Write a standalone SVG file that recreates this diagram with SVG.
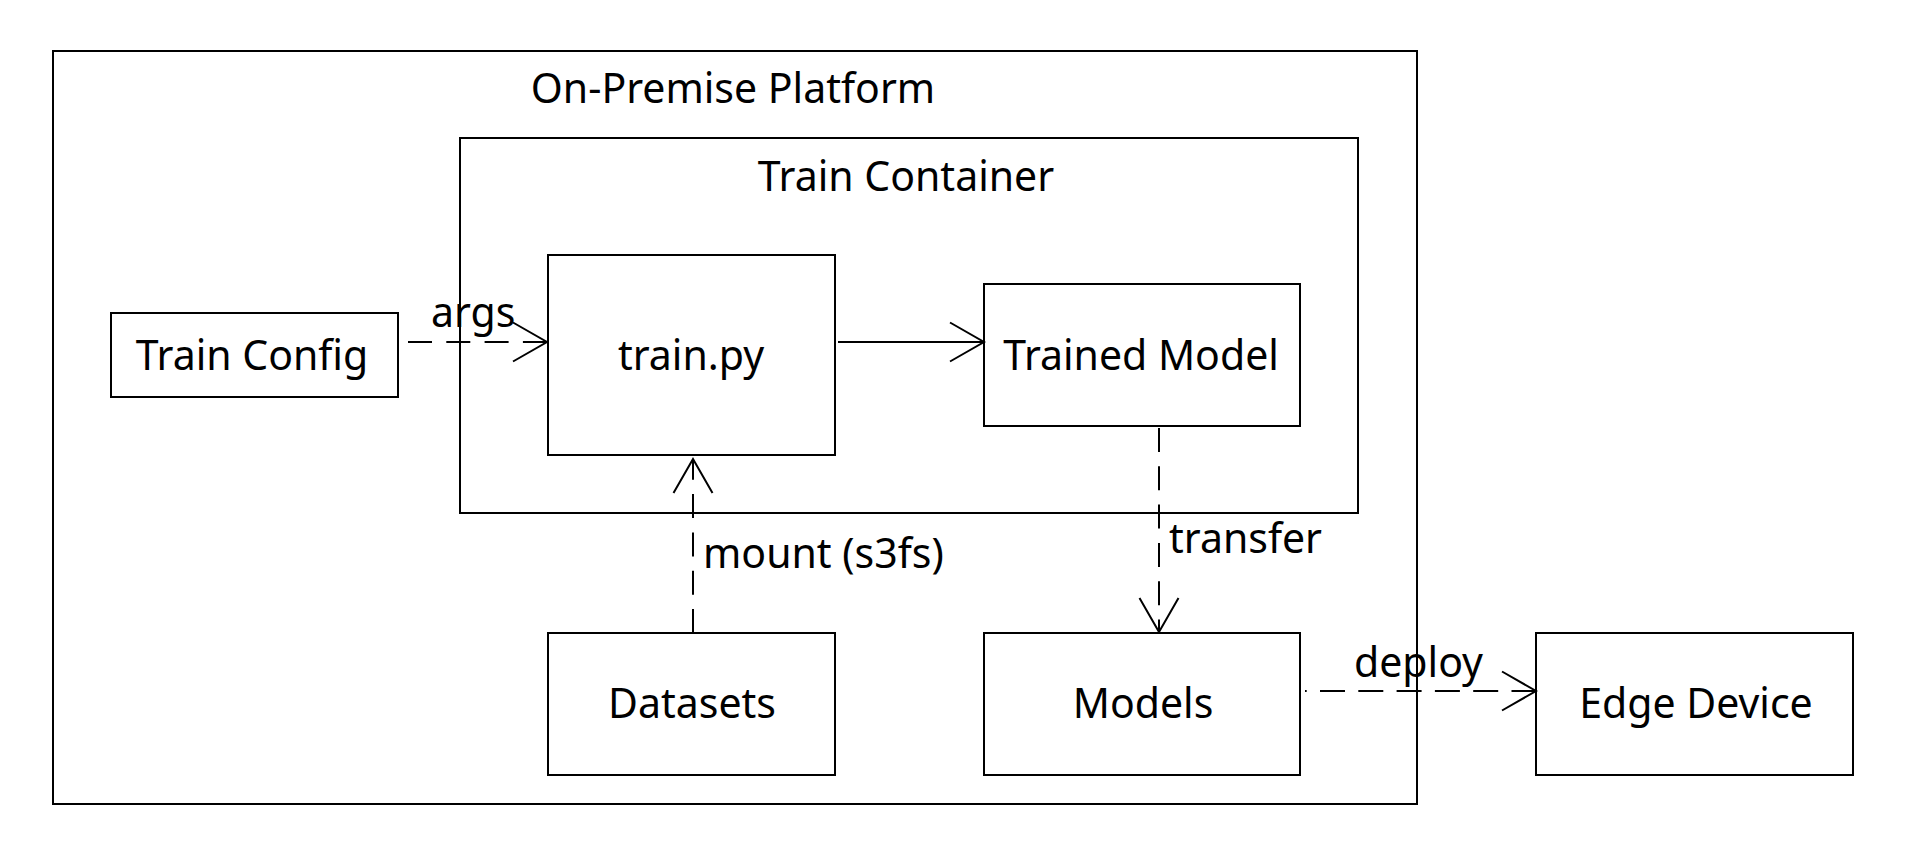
<svg xmlns="http://www.w3.org/2000/svg" width="1905" height="855" viewBox="0 0 1905 855">
<style>
.box{fill:none;stroke:#000;stroke-width:2}
.t{font-family:"Noto Sans","DejaVu Sans",sans-serif;font-size:41px;fill:#000}
.c{text-anchor:middle}
.ln{fill:none;stroke:#000;stroke-width:2}
.dash{stroke-dasharray:24 14.3}
</style>
<defs>
<marker id="open" markerUnits="userSpaceOnUse" markerWidth="40" markerHeight="44" viewBox="-36 -22 40 44" refX="0" refY="0" orient="auto" overflow="visible">
<path d="M-34,-19.5 L0,0 L-34,19.5" fill="none" stroke="#000" stroke-width="2" stroke-dasharray="none"/>
</marker>
</defs>
<g id="on-premise-platform">
<rect class="box" x="53" y="51" width="1364" height="753"/>
<text class="t c" x="733" y="103">On-Premise Platform</text>
</g>
<g id="train-container">
<rect class="box" x="460" y="138" width="898" height="375"/>
<text class="t c" x="906" y="191">Train Container</text>
</g>
<g id="train-config">
<rect class="box" x="111" y="313" width="287" height="84"/>
<text class="t c" x="252" y="370">Train Config</text>
</g>
<g id="train-py">
<rect class="box" x="548" y="255" width="287" height="200"/>
<text class="t c" x="691" y="370">train.py</text>
</g>
<g id="trained-model">
<rect class="box" x="984" y="284" width="316" height="142"/>
<text class="t c" x="1141" y="370">Trained Model</text>
</g>
<g id="datasets">
<rect class="box" x="548" y="633" width="287" height="142"/>
<text class="t c" x="692" y="718">Datasets</text>
</g>
<g id="models">
<rect class="box" x="984" y="633" width="316" height="142"/>
<text class="t c" x="1143" y="718">Models</text>
</g>
<g id="edge-device">
<rect class="box" x="1536" y="633" width="317" height="142"/>
<text class="t c" x="1696" y="718">Edge Device</text>
</g>
<g id="connectors">
<path class="ln dash" d="M408,342 L547,342" marker-end="url(#open)"/>
<text class="t" x="431" y="327">args</text>
<path class="ln" d="M838,342 L984,342" marker-end="url(#open)"/>
<path class="ln dash" d="M693,633 L693,459" marker-end="url(#open)"/>
<text class="t" x="703" y="568">mount (s3fs)</text>
<path class="ln dash" d="M1159,428 L1159,632" marker-end="url(#open)"/>
<text class="t" x="1169" y="553">transfer</text>
<path class="ln" d="M1305,691 L1536,691" stroke-dasharray="25 13.3" stroke-dashoffset="23.3" marker-end="url(#open)"/>
<text class="t" x="1354" y="677">deploy</text>
</g>
</svg>
